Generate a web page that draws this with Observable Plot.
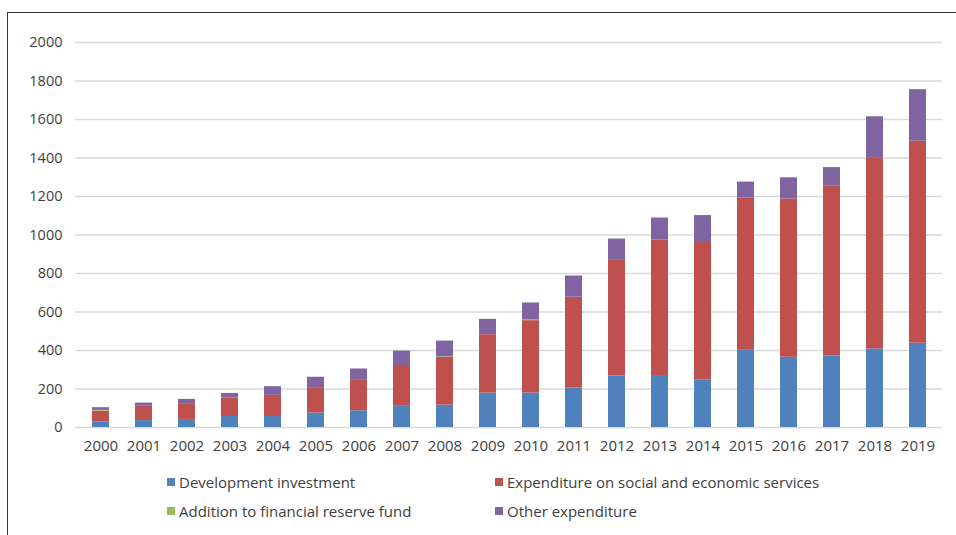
<!DOCTYPE html>
<html>
<head>
<meta charset="utf-8">
<script src="https://cdn.jsdelivr.net/npm/d3@7"></script>
<script src="https://cdn.jsdelivr.net/npm/@observablehq/plot@0.6"></script>
<style>
  html, body { margin: 0; padding: 0; background: #fff; overflow: hidden; }
  body { width: 956px; height: 535px; position: relative; font-family: "Open Sans", "Noto Sans", sans-serif; }
  #frame { position: absolute; left: 7px; top: 12px; width: 1000px; height: 600px; border-left: 1.5px solid #333; border-top: 1.5px solid #333; }
  #chart { position: absolute; left: 0; top: 0; }
  #legend { position: absolute; left: 0; top: 470px; width: 956px; height: 60px; font-size: 15px; color: #404040; }
  .item { position: absolute; display: flex; align-items: center; white-space: nowrap; }
  .sw { width: 8px; height: 8px; margin-right: 4px; }
</style>
</head>
<body>
<div id="frame"></div>
<div id="chart"></div>
<div id="legend"></div>
<script>
const years = ["2000","2001","2002","2003","2004","2005","2006","2007","2008","2009","2010","2011","2012","2013","2014","2015","2016","2017","2018","2019"];
const series = ["Development investment","Expenditure on social and economic services","Addition to financial reserve fund","Other expenditure"];
const colors = ["#4F81BD","#C0504D","#9BBB59","#8064A2"];
const development = [28,36,42,57,57,75,87,110,116,179,179,205,268,270,246,401,365,372,408,438];
const social = [57,74,78,96,110,132,158,212,248,303,376,472,604,704,720,791,822,881,994,1049];
const reserve = [4,0,0,0,0,0,0,0,3,0,4,0,0,0,0,0,0,0,0,0];
const other = [14,17,26,24,45,54,59,75,82,80,88,110,107,114,135,83,110,97,212,268];
const yTicks = [0,200,400,600,800,1000,1200,1400,1600,1800,2000];

const valuesBySeries = [development, social, reserve, other];
const data = [];
series.forEach((s, si) => {
  years.forEach((y, i) => data.push({year: y, series: s, order: si, value: valuesBySeries[si][i]}));
});

const chart = Plot.plot({
  width: 956,
  height: 465,
  marginTop: 42,
  marginBottom: 38,
  marginLeft: 75,
  marginRight: 14,
  style: {fontFamily: "'Open Sans', 'Noto Sans', sans-serif", fontSize: "14px", color: "#404040", background: "transparent"},
  x: {domain: years, paddingInner: 0.607, paddingOuter: 0.336, label: null},
  y: {domain: [0, 2000], label: null},
  color: {domain: series, range: colors},
  marks: [
    Plot.ruleY(yTicks, {stroke: "#d9d9d9", strokeWidth: 1.3}),
    Plot.barY(data, {x: "year", y: "value", fill: "series", order: series, sort: {x: null}}),
    Plot.axisX({tickSize: 0, tickPadding: 13, fontSize: 15, fill: "#404040"}),
    Plot.axisY({ticks: yTicks, tickSize: 0, tickPadding: 13, fontSize: 14.5, fill: "#404040", tickFormat: d => String(d)})
  ]
});
document.getElementById("chart").appendChild(chart);

const legend = document.getElementById("legend");
const pos = [[167, 12], [495, 12], [167, 41], [495, 41]];
series.forEach((s, i) => {
  const it = document.createElement("div");
  it.className = "item";
  it.style.left = pos[i][0] + "px";
  it.style.top = (pos[i][1] - 10) + "px";
  const sw = document.createElement("div");
  sw.className = "sw";
  sw.style.background = colors[i];
  const t = document.createElement("span");
  t.textContent = s;
  it.appendChild(sw); it.appendChild(t);
  legend.appendChild(it);
});
</script>
</body>
</html>
